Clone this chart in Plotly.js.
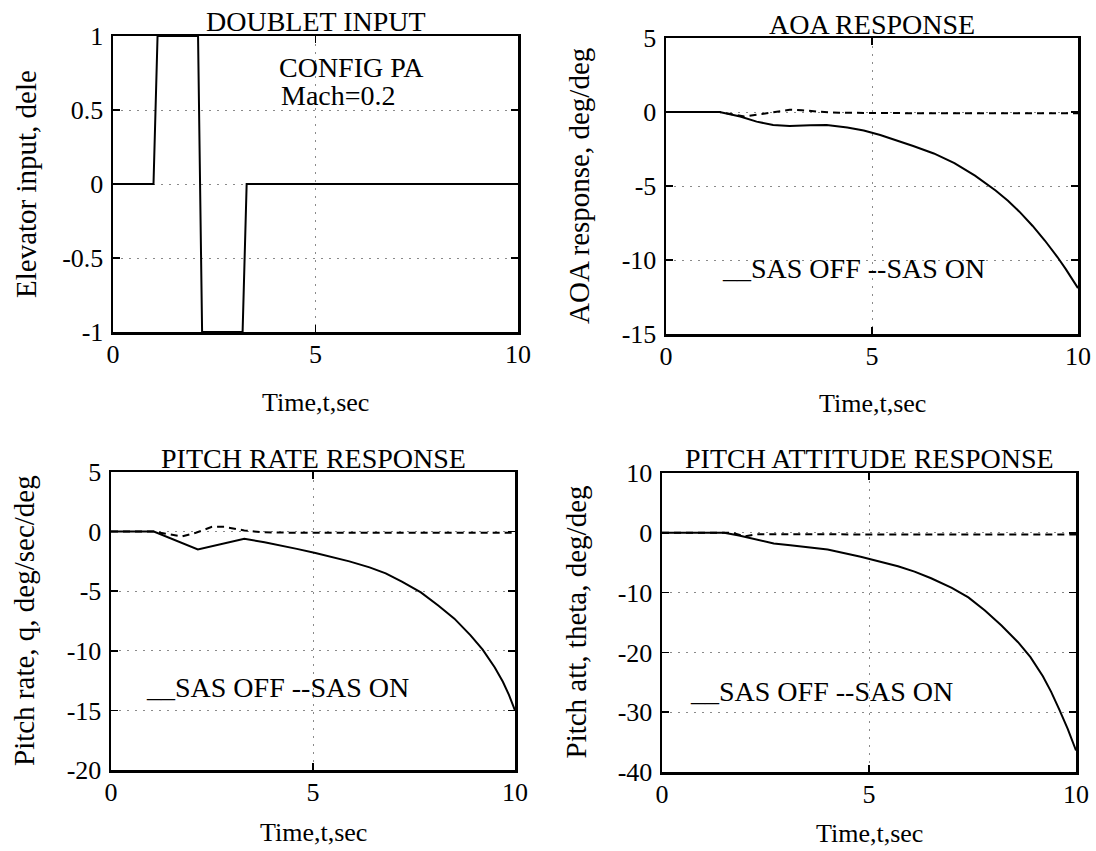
<!DOCTYPE html>
<html><head><meta charset="utf-8">
<script src="https://cdn.plot.ly/plotly-3.0.1.min.js"></script>
<style>html,body{margin:0;padding:0;background:#fff}</style>
</head><body><div id="chart" style="width:1096px;height:851px"></div>
<script>
// ---- data ----
const doubletT    = [0, 1.0, 1.1, 2.1, 2.2, 3.2, 3.3, 10];
const doubletDele = [0, 0, 1, 1, -1, -1, 0, 0];

const aoaOffT = [0, 1.3, 1.8, 2.2, 2.6, 3.0, 3.5, 3.9, 4.4, 4.8, 5.2, 5.6, 6.0, 6.5, 7.0, 7.5, 8.0, 8.3, 8.6, 8.9, 9.2, 9.5, 9.7, 10];
const aoaOff  = [0, 0, -0.3, -0.65, -0.88, -0.95, -0.9, -0.88, -1.05, -1.25, -1.55, -1.9, -2.3, -2.8, -3.45, -4.3, -5.3, -6.0, -6.8, -7.7, -8.7, -9.8, -10.6, -11.9];
const aoaOnT  = [0, 1.3, 1.6, 1.9, 2.3, 2.7, 3.0, 3.3, 3.7, 4.2, 5, 6, 7, 8, 9, 10];
const aoaOn   = [0, 0, -0.15, -0.3, -0.15, 0.05, 0.15, 0.12, 0.02, -0.05, -0.08, -0.08, -0.08, -0.08, -0.08, -0.08];

const qOffT = [0, 1.06, 2.15, 3.3, 3.8, 4.2, 4.6, 5.06, 5.5, 5.9, 6.4, 6.8, 7.2, 7.67, 8.1, 8.5, 8.9, 9.2, 9.5, 9.7, 9.85, 10];
const qOff  = [0, 0, -1.5, -0.6, -0.9, -1.15, -1.45, -1.8, -2.15, -2.5, -3.0, -3.5, -4.2, -5.1, -6.2, -7.3, -8.7, -9.9, -11.4, -12.6, -13.7, -15.0];
const qOnT  = [0, 1.06, 1.4, 1.76, 2.1, 2.5, 2.8, 3.3, 3.7, 4.5, 10];
const qOn   = [0, 0, -0.2, -0.4, -0.1, 0.4, 0.4, 0.1, -0.05, -0.1, -0.1];

const thOffT = [0, 1.5, 1.86, 2.29, 2.7, 3.1, 3.56, 4.0, 4.8, 5.7, 6.1, 6.5, 7.0, 7.4, 7.8, 8.2, 8.6, 8.9, 9.2, 9.4, 9.6, 9.8, 10];
const thOff  = [0, 0, -0.45, -1.2, -1.8, -2.1, -2.4, -2.8, -4.0, -5.6, -6.5, -7.6, -9.2, -10.8, -13.0, -15.5, -18.3, -20.8, -24.0, -26.6, -29.6, -32.8, -36.4];
const thOnT  = [0, 1.7, 2.0, 2.3, 10];
const thOn   = [0, 0, -0.6, -0.25, -0.3];

// tick values / labels
const xTicks = [0, 5, 10];
const xTickText = ["0", "5", "10"];
const y1Ticks = [-1, -0.5, 0, 0.5, 1];
const y1TickText = ["-1", "-0.5", "0", "0.5", "1"];
const y2Ticks = [-15, -10, -5, 0, 5];
const y2TickText = ["-15", "-10", "-5", "0", "5"];
const y3Ticks = [-20, -15, -10, -5, 0, 5];
const y3TickText = ["-20", "-15", "-10", "-5", "0", "5"];
const y4Ticks = [-40, -30, -20, -10, 0, 10];
const y4TickText = ["-40", "-30", "-20", "-10", "0", "10"];

const titles = ["DOUBLET INPUT", "AOA RESPONSE", "PITCH RATE RESPONSE", "PITCH ATTITUDE RESPONSE"];
const yTitles = ["Elevator input, dele", "AOA response, deg/deg", "Pitch rate, q, deg/sec/deg", "Pitch att, theta, deg/deg"];
const xTitle = "Time,t,sec";
const legendText = "__SAS OFF --SAS ON";

// ---- layout helpers ----
const W = 1096, H = 851;
const px = v => v / W;
const py = v => 1 - v / H;
const FONT = "Liberation Serif, Times New Roman, serif";

// plot boxes in pixels [left, right, top, bottom]
const boxes = [[113, 518, 36, 332], [666, 1078, 38, 334], [111, 515, 472, 770], [662, 1076, 473, 772]];
const xTitleGap = [70, 70, 62, 61];

const solid = {color: "#000", width: 2};
const dashed = {color: "#000", width: 2, dash: "7px,5px"};

const traces = [
  {x: doubletT, y: doubletDele, xaxis: "x", yaxis: "y", mode: "lines", line: solid, name: "dele"},
  {x: aoaOffT, y: aoaOff, xaxis: "x2", yaxis: "y2", mode: "lines", line: solid, name: "SAS OFF"},
  {x: aoaOnT, y: aoaOn, xaxis: "x2", yaxis: "y2", mode: "lines", line: dashed, name: "SAS ON"},
  {x: qOffT, y: qOff, xaxis: "x3", yaxis: "y3", mode: "lines", line: solid, name: "SAS OFF"},
  {x: qOnT, y: qOn, xaxis: "x3", yaxis: "y3", mode: "lines", line: dashed, name: "SAS ON"},
  {x: thOffT, y: thOff, xaxis: "x4", yaxis: "y4", mode: "lines", line: solid, name: "SAS OFF"},
  {x: thOnT, y: thOn, xaxis: "x4", yaxis: "y4", mode: "lines", line: dashed, name: "SAS ON"}
];

function axisBase() {
  return {
    showline: true, mirror: "ticks", linecolor: "#000", linewidth: 2.5,
    ticks: "inside", ticklen: 7, tickwidth: 1.5, tickcolor: "#000",
    showgrid: true, gridcolor: "#8a8a8a", gridwidth: 1, griddash: "2px,6px",
    zeroline: false, fixedrange: true,
    tickfont: {family: FONT, size: 26, color: "#000"},
    tickmode: "array"
  };
}

const yTickSets = [[y1Ticks, y1TickText, [-1, 1]], [y2Ticks, y2TickText, [-15, 5]], [y3Ticks, y3TickText, [-20, 5]], [y4Ticks, y4TickText, [-40, 10]]];

const layout = {
  width: W, height: H,
  margin: {l: 0, r: 0, t: 0, b: 0},
  paper_bgcolor: "#fff", plot_bgcolor: "#fff",
  showlegend: false,
  font: {family: FONT, color: "#000"},
  annotations: []
};

boxes.forEach((b, i) => {
  const s = i === 0 ? "" : String(i + 1);
  const xa = axisBase();
  xa.domain = [px(b[0]), px(b[1])];
  xa.range = [0, 10];
  xa.tickvals = xTicks; xa.ticktext = xTickText;
  xa.anchor = "y" + s;
  xa.ticklabelstandoff = -3;
  const ya = axisBase();
  ya.domain = [py(b[3]), py(b[2])];
  ya.range = yTickSets[i][2];
  ya.tickvals = yTickSets[i][0]; ya.ticktext = yTickSets[i][1];
  ya.anchor = "x" + s;
  ya.ticklabelstandoff = 2;
  layout["xaxis" + s] = xa;
  layout["yaxis" + s] = ya;

  const cx = (b[0] + b[1]) / 2;
  // subplot title
  layout.annotations.push({text: titles[i], xref: "paper", yref: "paper", x: px(cx), y: py(b[2] - 14),
    xanchor: "center", yanchor: "middle", showarrow: false, font: {family: FONT, size: 28, color: "#000"}});
  // x axis title
  layout.annotations.push({text: xTitle, xref: "paper", yref: "paper", x: px(cx), y: py(b[3] + xTitleGap[i]),
    xanchor: "center", yanchor: "middle", showarrow: false, font: {family: FONT, size: 26, color: "#000"}});
  // y axis title
  layout.annotations.push({text: yTitles[i], xref: "paper", yref: "paper", x: px(b[0] - 87), y: py((b[2] + b[3]) / 2),
    xanchor: "center", yanchor: "middle", textangle: -90, showarrow: false, font: {family: FONT, size: 29, color: "#000"}});
});

// in-plot texts
const inFont = {family: FONT, size: 28, color: "#000"};
layout.annotations.push({text: "CONFIG PA", xref: "x", yref: "y", x: 4.05, y: 0.79, xanchor: "left", yanchor: "middle", showarrow: false, font: inFont});
layout.annotations.push({text: "Mach=0.2", xref: "x", yref: "y", x: 4.1, y: 0.6, xanchor: "left", yanchor: "middle", showarrow: false, font: inFont});
layout.annotations.push({text: legendText, xref: "x2", yref: "y2", x: 1.3, y: -10.6, xanchor: "left", yanchor: "middle", showarrow: false, font: inFont});
layout.annotations.push({text: legendText, xref: "x3", yref: "y3", x: 0.82, y: -13.1, xanchor: "left", yanchor: "middle", showarrow: false, font: inFont});
layout.annotations.push({text: legendText, xref: "x4", yref: "y4", x: 0.63, y: -26.6, xanchor: "left", yanchor: "middle", showarrow: false, font: inFont});

Plotly.newPlot("chart", traces, layout, {staticPlot: true, displayModeBar: false});
</script>
</body></html>
